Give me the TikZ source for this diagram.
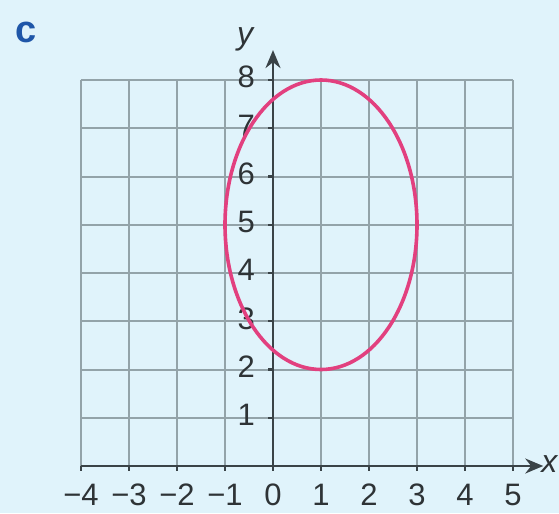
\documentclass[tikz,border=0pt]{standalone}
\usepackage{fontspec}
\setmainfont{Liberation Sans}
\usetikzlibrary{arrows.meta}
\definecolor{bg}{HTML}{E0F3FB}
\definecolor{gridc}{HTML}{93A3A9}
\definecolor{axisc}{HTML}{3A4347}
\definecolor{txt}{HTML}{2E3336}
\definecolor{curve}{HTML}{E2407F}
\definecolor{labblue}{HTML}{1F56A8}
\tikzset{
  gridline/.style={draw=gridc, line width=1pt},
  axisline/.style={draw=axisc, line width=1.2pt, -{Stealth[length=9pt,width=7.5pt]}},
  tickline/.style={draw=axisc, line width=1.1pt},
  numlab/.style={text=txt, font=\fontsize{15.5}{15.5}\selectfont, inner sep=1pt},
  varlab/.style={text=txt, font=\fontsize{16}{16}\selectfont\itshape, inner sep=0pt},
  partlab/.style={text=labblue, font=\fontsize{19}{19}\selectfont\bfseries, inner sep=0pt},
  curveline/.style={draw=curve, line width=1.8pt}
}
\begin{document}
\begin{tikzpicture}[x=24pt,y=24.125pt]
\fill[bg] (-5.6875,-0.974) rectangle (5.958,9.658);
\useasboundingbox (-5.6875,-0.974) rectangle (5.958,9.658);
\node[partlab] (c) at (-5.135,8.995) {c};
\foreach \i in {-4,...,5}{ \draw[gridline] (\i,0) -- (\i,8); }
\foreach \j in {1,...,8}{ \draw[gridline] (-4,\j) -- (5,\j); }
\coordinate (xs) at (-4,0);
\coordinate (xe) at (5.63,0);
\coordinate (ys) at (0,0);
\coordinate (ye) at (0,8.62);
\draw[axisline] (xs) -- (xe);
\draw[axisline] (ys) -- (ye);
\foreach \i/\t in {-4/−4,-3/−3,-2/−2,-1/−1,0/0,1/1,2/2,3/3,4/4,5/5}{
  \draw[tickline] (\i,0) -- (\i,-0.11);
  \node[numlab, anchor=north] (xl\i) at (\i,-0.33) {\t};
}
\foreach \j in {1,...,8}{
  \draw[tickline] (0,\j) -- (-0.11,\j);
  \node[numlab, anchor=east] (yl\j) at (-0.33,\j+0.06) {\j};
}
\node[varlab] (xlab) at (5.76,0.05) {x};
\node[varlab] (ylab) at (-0.58,8.84) {y};
\node[draw=none, inner sep=0pt] (ctr) at (1,5) {};
\draw[curveline] (ctr.center) ellipse [x radius=2, y radius=3];
\end{tikzpicture}
\end{document}
